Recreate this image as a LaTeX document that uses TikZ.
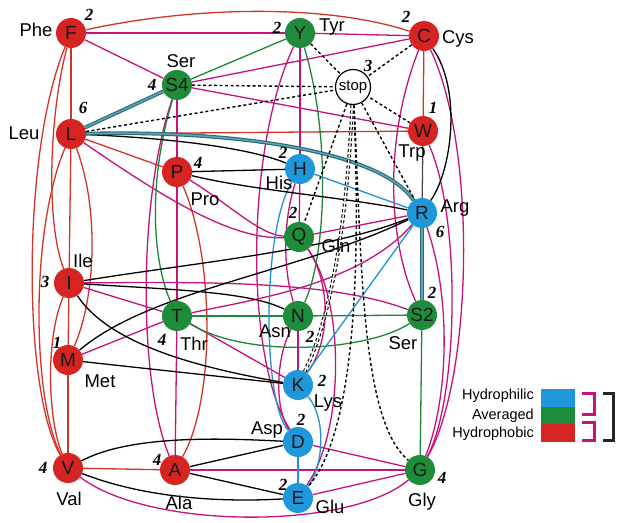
\documentclass[tikz,border=0pt]{standalone}
\usepackage{fontspec}
\setmainfont{Liberation Sans}
\newfontfamily\numfont{Liberation Serif}
\pgfdeclarelayer{background}
\pgfsetlayers{background,main}
\definecolor{cR}{RGB}{214,36,34}
\definecolor{cG}{RGB}{30,140,58}
\definecolor{cB}{RGB}{30,152,218}
\definecolor{eR}{RGB}{212,52,38}
\definecolor{eM}{RGB}{198,18,122}
\definecolor{eG}{RGB}{30,135,55}
\definecolor{eB}{RGB}{35,145,212}
\definecolor{eT}{RGB}{38,105,120}
\definecolor{eTl}{RGB}{95,165,178}
\tikzset{
  aa/.style={circle, minimum size=30pt, inner sep=0pt, text=black!90, font=\fontsize{19}{19}\selectfont},
  pho/.style={aa, fill=cR},
  ave/.style={aa, fill=cG},
  phi/.style={aa, fill=cB},
  stopn/.style={circle, draw=black, line width=1.2pt, fill=white, minimum size=35pt, inner sep=0pt, font=\fontsize{15}{15}\selectfont},
  lab/.style={inner sep=0pt, font=\fontsize{18.5}{19}\selectfont},
  num/.style={inner sep=0pt, font=\numfont\bfseries\itshape\fontsize{17}{17}\selectfont},
  leg/.style={inner sep=0pt, anchor=east, font=\fontsize{14.5}{15}\selectfont},
  er/.style={draw=eR, line width=1.3pt},
  em/.style={draw=eM, line width=1.3pt},
  eg/.style={draw=eG, line width=1.3pt},
  eb/.style={draw=eB, line width=1.3pt},
  ek/.style={draw=black, line width=1.3pt},
  et/.style={draw=eT, double=eTl, double distance=1.5pt, line width=1.1pt},
  ed/.style={draw=black, line width=1.4pt, dash pattern=on 3pt off 2.5pt},
  edd/.style={draw=black, line width=1.1pt, dash pattern=on 3pt off 2.5pt, double=white, double distance=1.4pt},
}
\begin{document}
\begin{tikzpicture}[x=1pt, y=-1pt]
\useasboundingbox (0,0) rectangle (617,522);
% nodes
\node[pho] (F) at (71,33) {F};
\node[ave] (Y) at (300,33) {Y};
\node[pho] (C) at (424,36) {C};
\node[ave] (S4) at (177,85) {S4};
\node[stopn] (stop) at (353,87) {stop};
\node[pho] (W) at (423,131) {W};
\node[pho] (L) at (71,134) {L};
\node[pho] (P) at (177,172) {P};
\node[phi] (H) at (300,169) {H};
\node[phi] (R) at (422,213) {R};
\node[ave] (Q) at (299,237) {Q};
\node[pho] (I) at (69,283) {I};
\node[ave] (T) at (177,316) {T};
\node[ave] (N) at (298,316) {N};
\node[ave] (S2) at (422,315) {S2};
\node[pho] (M) at (68,360) {M};
\node[phi] (K) at (298,385) {K};
\node[phi] (D) at (298,442) {D};
\node[pho] (V) at (68,468) {V};
\node[pho] (A) at (175,470) {A};
\node[ave] (G) at (420,470) {G};
\node[phi] (E) at (298,498) {E};
% labels
\node[lab] (lF) at (36,30) {Phe};
\node[lab] (lY) at (332,27) {Tyr};
\node[lab] (lC) at (458,39) {Cys};
\node[lab] (lS4) at (181,61) {Ser};
\node[lab] (lL) at (24,133) {Leu};
\node[lab] (lW) at (412,153) {Trp};
\node[lab] (lP) at (205,199) {Pro};
\node[lab] (lH) at (279,183) {His};
\node[lab] (lR) at (455,208) {Arg};
\node[lab] (lQ) at (336,246) {Gln};
\node[lab] (lI) at (83,261) {Ile};
\node[lab] (lT) at (194,344) {Thr};
\node[lab] (lN) at (275,331) {Asn};
\node[lab] (lS2) at (403,343) {Ser};
\node[lab] (lM) at (100,381) {Met};
\node[lab] (lK) at (328,403) {Lys};
\node[lab] (lD) at (267,430) {Asp};
\node[lab] (lV) at (69,499) {Val};
\node[lab] (lA) at (179,503) {Ala};
\node[lab] (lE) at (330,507) {Glu};
\node[lab] (lG) at (422,502) {Gly};
% numbers
\node[num] (nF) at (89,15) {2};
\node[num] (nY) at (277,28) {2};
\node[num] (nC) at (406,17) {2};
\node[num] (nS4) at (152,85) {4};
\node[num] (nstop) at (368,66) {3};
\node[num] (nW) at (433,108) {1};
\node[num] (nL) at (83,108) {6};
\node[num] (nP) at (198,163) {4};
\node[num] (nH) at (283,153) {2};
\node[num] (nR) at (440,232) {6};
\node[num] (nQ) at (293,213) {2};
\node[num] (nI) at (45,282) {3};
\node[num] (nT) at (162,340) {4};
\node[num] (nN) at (310,337) {2};
\node[num] (nS2) at (432,293) {2};
\node[num] (nM) at (57,343) {1};
\node[num] (nK) at (322,381) {2};
\node[num] (nD) at (301,420) {2};
\node[num] (nV) at (43,468) {4};
\node[num] (nA) at (157,460) {4};
\node[num] (nE) at (283,485) {2};
\node[num] (nG) at (442,478) {4};
% legend
\node[leg] (t1) at (534,396) {Hydrophilic};
\node[leg] (t2) at (534,416) {Averaged};
\node[leg] (t3) at (534,434) {Hydrophobic};
\fill[cB] (541,389) rectangle (575,407);
\fill[cG] (541,407) rectangle (575,424);
\fill[cR] (541,424) rectangle (575,442);
\draw[eM, line width=3pt] (582,393) -- (594,393) -- (594,414) -- (582,414);
\draw[eM, line width=3pt] (582,422) -- (594,422) -- (594,440) -- (582,440);
\draw[black!85, line width=3pt] (603,393) -- (613,393) -- (613,440) -- (603,440);
\begin{pgfonlayer}{background}
\fill[white] (0,0) rectangle (617,522);
% red
\draw[er] (F) -- (L);
\draw[er] (F) .. controls (50,110) and (45,220) .. (I);
\draw[er] (F) .. controls (22,150) and (22,390) .. (V);
\draw[er] (L) .. controls (30,230) and (32,400) .. (V);
\draw[er] (L) -- (I);
\draw[er] (L) .. controls (100,210) and (95,300) .. (M);
\draw[er] (I) -- (M);
\draw[er] (M) -- (V);
\draw[er] (I) .. controls (45,340) and (48,420) .. (V);
\draw[er] (F) .. controls (200,5) and (330,5) .. (C);
\draw[er] (L) -- (W);
\draw[er] (L) -- (P);
\draw[er] (P) .. controls (215,260) and (215,400) .. (A);
\draw[er] (V) -- (A);
\draw[er] (C) -- (W);
% magenta
\draw[em] (F) -- (S4);
\draw[em] (F) -- (Y);
\draw[em] (Y) -- (C);
\draw[em] (S4) -- (C);
\draw[em] (S4) -- (W);
\draw[em] (S4) -- (P);
\draw[em] (S4) .. controls (138,200) and (138,380) .. (A);
\draw[em] (Y) -- (H);
\draw[em] (Y) .. controls (245,150) and (245,360) .. (D);
\draw[em] (L) .. controls (160,195) and (230,240) .. (Q);
\draw[em] (P) .. controls (230,205) and (260,235) .. (Q);
\draw[em] (H) -- (Q);
\draw[em] (Q) -- (R);
\draw[em] (H) .. controls (283,220) and (283,270) .. (N);
\draw[em] (N) .. controls (275,360) and (275,410) .. (D);
\draw[em] (N) -- (K);
\draw[em] (Q) .. controls (330,280) and (332,340) .. (K);
\draw[em] (Q) .. controls (345,300) and (345,430) .. (E);
\draw[em] (I) -- (T);
\draw[em] (I) .. controls (200,282) and (330,280) .. (S2);
\draw[em] (M) -- (T);
\draw[em] (T) -- (K);
\draw[em] (T) .. controls (250,300) and (360,285) .. (R);
\draw[em] (T) -- (A);
\draw[em] (P) -- (T);
\draw[em] (C) .. controls (380,150) and (392,250) .. (S2);
\draw[em] (C) .. controls (478,150) and (472,380) .. (G);
\draw[em] (W) .. controls (462,220) and (458,400) .. (G);
\draw[em] (R) .. controls (452,300) and (448,400) .. (G);
\draw[em] (D) -- (G);
\draw[em] (E) -- (G);
\draw[em] (A) -- (G);
\draw[em] (V) .. controls (150,530) and (350,530) .. (G);
% green
\draw[eg] (Y) -- (S4);
\draw[eg] (Y) .. controls (332,140) and (325,260) .. (N);
\draw[eg] (S4) .. controls (148,180) and (152,260) .. (T);
\draw[eg] (T) -- (N);
\draw[eg] (N) -- (S2);
\draw[eg] (T) .. controls (250,360) and (370,350) .. (S2);
\draw[eg] (S2) -- (G);
% blue
\draw[eb] (H) -- (R);
\draw[eb] (K) -- (R);
\draw[eb] (D) -- (E);
\draw[eb] (H) .. controls (262,230) and (262,400) .. (D);
\draw[eb] (K) .. controls (328,420) and (322,470) .. (E);
% black
\draw[ek] (L) .. controls (170,138) and (250,148) .. (H);
\draw[ek] (P) -- (H);
\draw[ek] (P) .. controls (250,190) and (350,198) .. (R);
\draw[ek] (I) .. controls (200,262) and (330,250) .. (R);
\draw[ek] (M) .. controls (150,290) and (300,272) .. (R);
\draw[ek] (I) .. controls (180,290) and (250,292) .. (N);
\draw[ek] (I) .. controls (110,345) and (200,368) .. (K);
\draw[ek] (M) -- (K);
\draw[ek] (V) .. controls (130,435) and (220,438) .. (D);
\draw[ek] (A) -- (D);
\draw[ek] (A) -- (E);
\draw[ek] (V) .. controls (150,500) and (230,502) .. (E);
\draw[ek] (C) .. controls (462,90) and (452,170) .. (R);
\draw[ek, draw=black!70] (W) -- (R);
% teal
\draw[et] (L) -- (S4);
\draw[et] (L) .. controls (230,130) and (380,150) .. (R);
\draw[et] (R) -- (S2);
% stop
\draw[ed] (Y) -- (stop);
\draw[ed] (C) -- (stop);
\draw[ed] (W) -- (stop);
\draw[ed] (S4) -- (stop);
\draw[ed] (L) -- (stop);
\draw[ed] (stop) -- (Q);
\draw[ed] (stop) -- (R);
\draw[edd] (stop) .. controls (348,200) and (335,310) .. (K);
\draw[ed] (stop) .. controls (360,250) and (358,430) .. (E);
\draw[ed] (stop) .. controls (362,260) and (360,420) .. (G);
\end{pgfonlayer}
\end{tikzpicture}
\end{document}
